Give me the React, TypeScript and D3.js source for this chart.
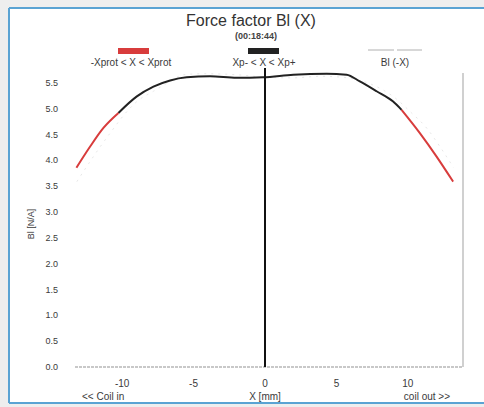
import React from "react";
import * as d3 from "d3";

// measured curve Bl(X), X in mm, Bl in N/A
const xPositions = [-13.2, -12.24, -11.31, -10.26, -8.97, -7.81, -6.64, -5.48, -3.85, -1.98, -0.14, 1.98, 4.31, 5.71, 6.64, 7.81, 8.97, 9.56, 10.84, 12.0, 13.17];
const blValues = [3.86, 4.27, 4.63, 4.92, 5.24, 5.43, 5.55, 5.61, 5.63, 5.6, 5.61, 5.66, 5.68, 5.66, 5.53, 5.34, 5.14, 4.98, 4.53, 4.08, 3.59];
const xpMinus = -10.26;
const xpPlus = 9.56;
const yTicks = [0, 0.5, 1, 1.5, 2, 2.5, 3, 3.5, 4, 4.5, 5, 5.5];
const xTicks = [-10, -5, 0, 5, 10];
const legendLabels = ["-Xprot < X < Xprot", "Xp- < X < Xp+", "Bl (-X)"];

const W = 484, H = 407;
const left = 75, right = 463, bottom = 367;
const font = "'Liberation Sans', Arial, sans-serif";

export default function App() {
  const x = d3.scaleLinear().domain([-13.3, 13.86]).range([left, right]);
  const y = d3.scaleLinear().domain([0, 5.5]).range([bottom, 83]);
  const line = d3.line<[number, number]>().x(d => x(d[0])).y(d => y(d[1])).curve(d3.curveMonotoneX);

  const pts: [number, number][] = xPositions.map((v, i) => [v, blValues[i]]);
  const redLeft = pts.filter(p => p[0] <= xpMinus);
  const black = pts.filter(p => p[0] >= xpMinus && p[0] <= xpPlus);
  const redRight = pts.filter(p => p[0] >= xpPlus);
  const mirrored: [number, number][] = pts.map(p => [-p[0], p[1]] as [number, number]).reverse();

  const red = "#d83c3c";
  const dark = "#222";
  const txt = "#3a3a3a";

  return (
    <svg width={W} height={H} style={{ position: "absolute", left: 0, top: 0, fontFamily: font }}>
      <rect x={0} y={0} width={W} height={H} fill="#eeeeee" />
      <rect x={9} y={8} width={W - 9} height={395} fill="#fff" />
      <line x1={9} x2={W} y1={8} y2={8} stroke="#5aa3d3" strokeWidth={2} />
      <line x1={9} x2={W} y1={403} y2={403} stroke="#5aa3d3" strokeWidth={2} />
      <line x1={9} x2={9} y1={8} y2={403} stroke="#5aa3d3" strokeWidth={2} />

      {/* title */}
      <text x={251} y={26} textAnchor="middle" fontSize={16} fill="#333">Force factor Bl (X)</text>
      <text x={256} y={39} textAnchor="middle" fontSize={9} fill="#444" fontWeight="bold">(00:18:44)</text>

      {/* legend */}
      <rect x={118} y={48} width={31} height={6} fill={red} />
      <text x={131} y={66} textAnchor="middle" fontSize={10} fill={txt}>{legendLabels[0]}</text>
      <rect x={248} y={48} width={31} height={6} fill={dark} />
      <text x={264} y={66} textAnchor="middle" fontSize={10} fill={txt}>{legendLabels[1]}</text>
      <line x1={368} x2={422} y1={50} y2={50} stroke="#b0b0b0" strokeWidth={1} strokeDasharray="26,3" />
      <text x={395} y={66} textAnchor="middle" fontSize={10} fill={txt}>{legendLabels[2]}</text>

      {/* plot frame */}
      <line x1={left} x2={right} y1={bottom} y2={bottom} stroke="#c8c8c8" strokeWidth={2} strokeDasharray="3,1" />
      <line x1={right} x2={right} y1={73} y2={bottom} stroke="#d0d0d0" strokeWidth={2} />

      {/* y axis */}
      {yTicks.map(t => (
        <text key={t} x={58} y={y(t) + 3} textAnchor="end" fontSize={9} fill={txt}>{d3.format(".1f")(t)}</text>
      ))}
      <text transform={`translate(34,224) rotate(-90)`} textAnchor="middle" fontSize={9} fill={txt}>Bl [N/A]</text>

      {/* x axis */}
      {xTicks.map(t => (
        <text key={t} x={x(t)} y={387} textAnchor="middle" fontSize={10} fill={txt}>{t}</text>
      ))}
      <text x={82} y={400} fontSize={10} fill={txt}>{"<< Coil in"}</text>
      <text x={x(0)} y={400} textAnchor="middle" fontSize={10} fill={txt}>X [mm]</text>
      <text x={450} y={400} textAnchor="end" fontSize={10} fill={txt}>{"coil out >>"}</text>

      {/* curves */}
      <path d={line(mirrored) ?? ""} fill="none" stroke="#e8e8e8" strokeWidth={1} strokeDasharray="2,5" />
      <path d={line(black) ?? ""} fill="none" stroke={dark} strokeWidth={2} />
      <path d={line(redLeft) ?? ""} fill="none" stroke={red} strokeWidth={2} />
      <path d={line(redRight) ?? ""} fill="none" stroke={red} strokeWidth={2} />

      {/* position marker */}
      <line x1={x(0)} x2={x(0)} y1={68} y2={bottom} stroke="#111" strokeWidth={2} />
    </svg>
  );
}
